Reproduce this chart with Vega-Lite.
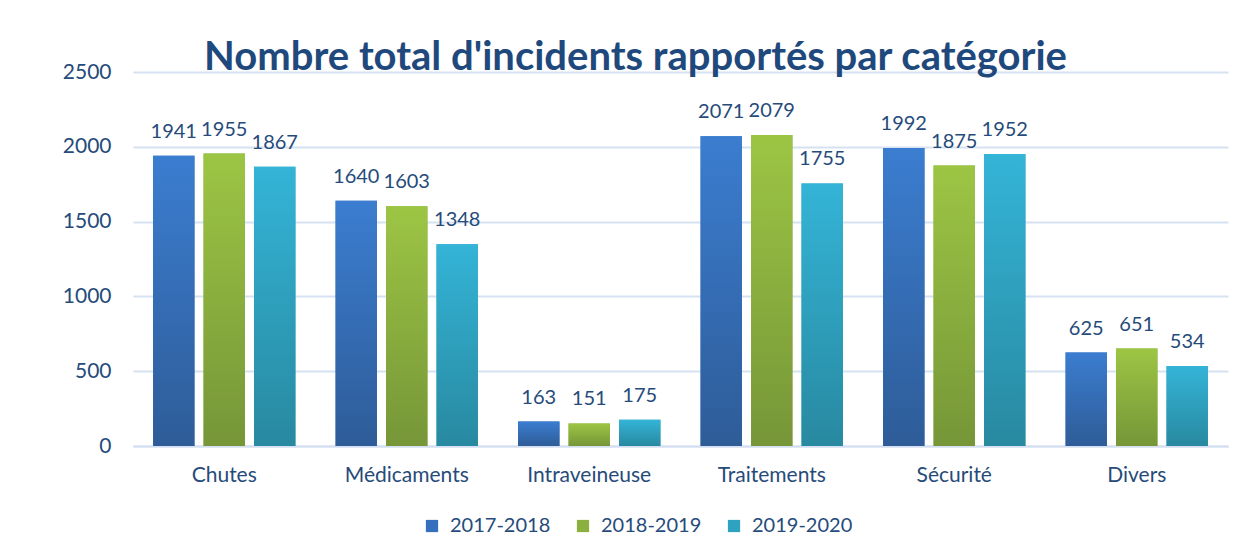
{
  "$schema": "https://vega.github.io/schema/vega-lite/v6.json",
  "width": 1095,
  "height": 374,
  "autosize": {"type": "none"},
  "padding": {"left": 133, "top": 72, "right": 20, "bottom": 108},
  "background": "white",
  "config": {
    "font": "Lato",
    "view": {"stroke": null}
  },
  "title": {
    "text": "Nombre total d'incidents rapportés par catégorie",
    "font": "Lato",
    "fontSize": 40,
    "fontWeight": "bold",
    "color": "#1f497d",
    "anchor": "middle",
    "frame": "group",
    "dx": -45,
    "baseline": "alphabetic",
    "offset": -49
  },
  "data": {
    "values": [
      {"categorie": "Chutes", "annee": "2017-2018", "incidents": 1941},
      {"categorie": "Chutes", "annee": "2018-2019", "incidents": 1955},
      {"categorie": "Chutes", "annee": "2019-2020", "incidents": 1867},
      {"categorie": "Médicaments", "annee": "2017-2018", "incidents": 1640},
      {"categorie": "Médicaments", "annee": "2018-2019", "incidents": 1603},
      {"categorie": "Médicaments", "annee": "2019-2020", "incidents": 1348},
      {"categorie": "Intraveineuse", "annee": "2017-2018", "incidents": 163},
      {"categorie": "Intraveineuse", "annee": "2018-2019", "incidents": 151},
      {"categorie": "Intraveineuse", "annee": "2019-2020", "incidents": 175},
      {"categorie": "Traitements", "annee": "2017-2018", "incidents": 2071},
      {"categorie": "Traitements", "annee": "2018-2019", "incidents": 2079},
      {"categorie": "Traitements", "annee": "2019-2020", "incidents": 1755},
      {"categorie": "Sécurité", "annee": "2017-2018", "incidents": 1992},
      {"categorie": "Sécurité", "annee": "2018-2019", "incidents": 1875},
      {"categorie": "Sécurité", "annee": "2019-2020", "incidents": 1952},
      {"categorie": "Divers", "annee": "2017-2018", "incidents": 625},
      {"categorie": "Divers", "annee": "2018-2019", "incidents": 651},
      {"categorie": "Divers", "annee": "2019-2020", "incidents": 534}
    ]
  },
  "encoding": {
    "x": {
      "field": "categorie",
      "type": "nominal",
      "sort": ["Chutes", "Médicaments", "Intraveineuse", "Traitements", "Sécurité", "Divers"],
      "scale": {"paddingInner": 0.22, "paddingOuter": 0.11},
      "axis": {
        "title": null,
        "labelAngle": 0,
        "labelFontSize": 21,
        "labelColor": "#264b7a",
        "labelPadding": 18,
        "ticks": false,
        "domain": true,
        "domainColor": "#d3dff0",
        "domainWidth": 2,
        "grid": false
      }
    },
    "xOffset": {
      "field": "annee",
      "type": "nominal",
      "scale": {"domain": ["2017-2018", "2018-2019", "2019-2020"], "paddingInner": 0.18, "paddingOuter": 0}
    },
    "y": {
      "field": "incidents",
      "type": "quantitative",
      "scale": {"domain": [0, 2500], "nice": false},
      "axis": {
        "title": null,
        "values": [0, 500, 1000, 1500, 2000, 2500],
        "format": "d",
        "labelFontSize": 21,
        "labelColor": "#264b7a",
        "labelPadding": 22,
        "ticks": false,
        "domain": false,
        "grid": true,
        "gridColor": "#d6e2f2",
        "gridWidth": 2
      }
    }
  },
  "layer": [
    {
      "mark": {"type": "bar"},
      "encoding": {
        "color": {
          "field": "annee",
          "type": "nominal",
          "scale": {"domain": ["2017-2018", "2018-2019", "2019-2020"], "range": ["#3470bd", "#8bb03f", "#2fa2c0"]},
          "legend": {
            "orient": "none",
            "legendX": 289,
            "legendY": 444,
            "direction": "horizontal",
            "title": null,
            "symbolType": "square",
            "symbolSize": 150,
            "symbolStrokeWidth": 0,
            "labelFontSize": 20,
            "labelColor": "#264b7a",
            "labelOffset": 8,
            "columnPadding": 22
          }
        }
      }
    },
    {
      "transform": [{"filter": "datum.annee === '2017-2018'"}],
      "mark": {
        "type": "bar",
        "color": {"gradient": "linear", "x1": 0, "y1": 0, "x2": 0, "y2": 1,
          "stops": [{"offset": 0, "color": "#3b7dd0"}, {"offset": 1, "color": "#2e5c98"}]}
      }
    },
    {
      "transform": [{"filter": "datum.annee === '2018-2019'"}],
      "mark": {
        "type": "bar",
        "color": {"gradient": "linear", "x1": 0, "y1": 0, "x2": 0, "y2": 1,
          "stops": [{"offset": 0, "color": "#9dc544"}, {"offset": 1, "color": "#769638"}]}
      }
    },
    {
      "transform": [{"filter": "datum.annee === '2019-2020'"}],
      "mark": {
        "type": "bar",
        "color": {"gradient": "linear", "x1": 0, "y1": 0, "x2": 0, "y2": 1,
          "stops": [{"offset": 0, "color": "#34b4d7"}, {"offset": 1, "color": "#2889a0"}]}
      }
    },
    {
      "mark": {"type": "text", "baseline": "alphabetic", "dy": -18, "fontSize": 20, "color": "#264b7a"},
      "encoding": {"text": {"field": "incidents", "type": "quantitative"}}
    }
  ]
}
